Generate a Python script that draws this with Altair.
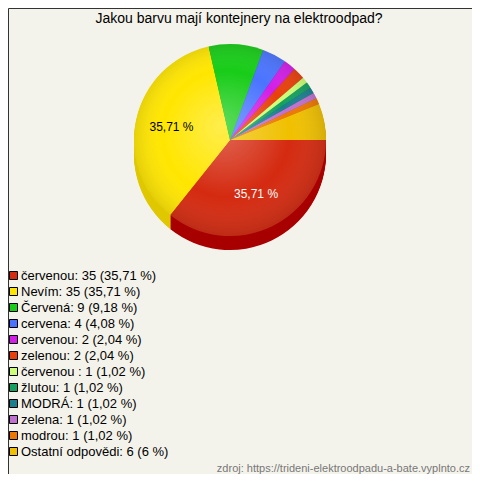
import math
import altair as alt
import pandas as pd

# ---- data ----
names = ["červenou", "Nevím", "Červená", "cervena", "cervenou", "zelenou",
         "\u2002červenou ", "žlutou", "MODRÁ", "zelena", "modrou", "Ostatní odpovědi"]
counts = [35, 35, 9, 4, 2, 2, 1, 1, 1, 1, 1, 6]
pct_text = ["35,71", "35,71", "9,18", "4,08", "2,04", "2,04",
            "1,02", "1,02", "1,02", "1,02", "1,02", "6"]
slice_labels = ["35,71 %", "35,71 %", "", "", "", "", "", "", "", "", "", ""]

title_text = "Jakou barvu mají kontejnery na elektroodpad?"
source_text = "zdroj: https://trideni-elektroodpadu-a-bate.vyplnto.cz"

# ---- styles ----
colors = ["#d42a10", "#ffe600", "#18cc18", "#4a74ff", "#d21ee8", "#e8400a",
          "#ccff77", "#14a060", "#1a8090", "#c070d0", "#ee7700", "#f0c000"]
dark = ["#a80000", "#e0c800", "#0a9a0a", "#2a50c0", "#9a10b0", "#b02a00",
        "#99cc55", "#0a7040", "#0a5a66", "#9050a0", "#bb5500", "#d0a000"]
label_colors = ["white", "black"] + ["black"] * 10

legend_labels = [f"{n}: {c} ({p} %)" for n, c, p in zip(names, counts, pct_text)]

df = pd.DataFrame({
    "idx": list(range(len(names))),
    "count": counts,
    "legend": legend_labels,
    "dark": dark,
    "lab": slice_labels,
    "tc": label_colors,
})

FONT = "Liberation Sans"
CX, CY, R, DEPTH = 222, 132, 96, 14
start = math.pi / 2
th_scale = alt.Scale(range=[start, start + 2 * math.pi])

def theta():
    return alt.Theta("count:Q", stack=True, scale=th_scale)

order = alt.Order("idx:Q", sort="ascending")

layers = []
# side (depth) of the 3D pie
for off in range(DEPTH, 0, -1):
    layers.append(
        alt.Chart(df).mark_arc(radius=R).encode(
            theta=theta(),
            fill=alt.Fill("dark:N", scale=None, legend=None),
            order=order,
            x=alt.value(CX),
            y=alt.value(CY + off),
        )
    )

pie = alt.Chart(df).mark_arc(radius=R).encode(
    theta=theta(),
    color=alt.Color(
        "legend:N",
        sort=legend_labels,
        scale=alt.Scale(domain=legend_labels, range=colors),
        legend=alt.Legend(
            orient="none", legendX=-1, legendY=261, title=None,
            symbolType="square", symbolSize=64, symbolStrokeColor="black",
            symbolStrokeWidth=1, symbolOpacity=1,
            labelFont=FONT, labelFontSize=13, labelColor="black",
            rowPadding=2, labelOffset=1, padding=0, labelLimit=400,
        ),
    ),
    order=order,
    x=alt.value(CX),
    y=alt.value(CY),
)
layers.append(pie)

shine = alt.Chart(pd.DataFrame({"a": [0]})).mark_arc(
    radius=R, theta=0, theta2=2 * math.pi,
    fill={
        "gradient": "radial",
        "x1": 0.45, "y1": 0.42, "r1": 0.0,
        "x2": 0.5, "y2": 0.5, "r2": 0.55,
        "stops": [
            {"offset": 0, "color": "rgba(255,255,255,0.30)"},
            {"offset": 0.6, "color": "rgba(255,255,255,0.0)"},
            {"offset": 1, "color": "rgba(0,0,0,0.18)"},
        ],
    },
).encode(x=alt.value(CX), y=alt.value(CY))
layers.append(shine)

labels = alt.Chart(df).mark_text(radius=60, font=FONT, fontSize=12).encode(
    theta=theta(),
    text="lab:N",
    fill=alt.Fill("tc:N", scale=None, legend=None),
    order=order,
    x=alt.value(CX),
    y=alt.value(CY),
)
layers.append(labels)

title = alt.Chart(pd.DataFrame({"t": [title_text]})).mark_text(
    font=FONT, fontSize=14, color="black", align="center", baseline="middle"
).encode(text="t:N", x=alt.value(231), y=alt.value(11))
layers.append(title)

source = alt.Chart(pd.DataFrame({"t": [source_text]})).mark_text(
    font=FONT, fontSize=11, color="#777777", align="right", baseline="middle"
).encode(text="t:N", x=alt.value(462), y=alt.value(461))
layers.append(source)

chart = alt.layer(*layers).properties(
    width=464, height=466, padding=0,
    autosize=alt.AutoSizeParams(type="none"),
    background="#f4f3eb",
).configure_view(stroke="#333333", strokeWidth=1, fill="#f4f3eb")

chart.save("out.html", embed_options={"renderer": "svg", "actions": False})
